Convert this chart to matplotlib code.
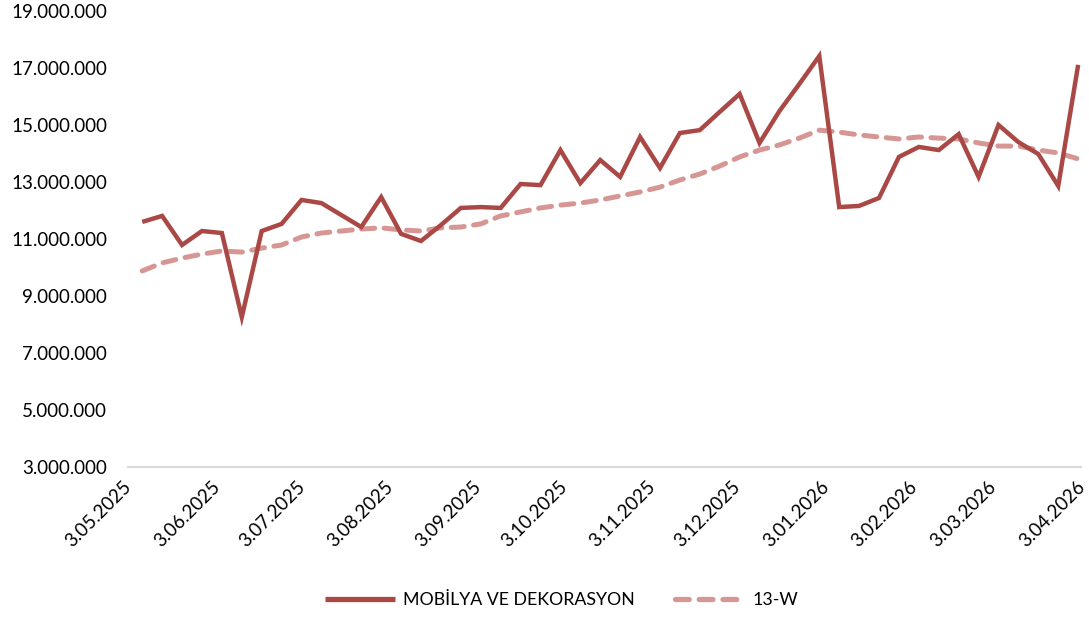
import matplotlib
matplotlib.use("Agg")
import matplotlib.pyplot as plt
import matplotlib.ticker as mticker
import matplotlib.transforms as mtransforms
import pandas as pd

plt.rcParams['font.family'] = ['Lato', 'DejaVu Sans']

# Weekly dates (categories)
dates = pd.date_range('2025-05-08', periods=48, freq='7D')

# Values in millions
sales_m = [11.60, 11.81, 10.79, 11.28, 11.21, 8.26, 11.28, 11.53, 12.37, 12.26,
           11.84, 11.42, 12.47, 11.18, 10.93, 11.49, 12.09, 12.12, 12.09, 12.93,
           12.89, 14.12, 12.96, 13.77, 13.18, 14.58, 13.49, 14.72, 14.82, 15.46,
           16.09, 14.37, 15.49, 16.44, 17.42, 12.12, 12.16, 12.44, 13.88, 14.23,
           14.12, 14.68, 13.18, 15.00, 14.40, 13.98, 12.86, 17.11]
ma13_m = [9.88, 10.16, 10.33, 10.47, 10.58, 10.54, 10.68, 10.79, 11.07, 11.21,
          11.28, 11.35, 11.39, 11.32, 11.28, 11.39, 11.42, 11.53, 11.81, 11.95,
          12.09, 12.19, 12.26, 12.37, 12.51, 12.65, 12.82, 13.07, 13.28, 13.56,
          13.88, 14.12, 14.30, 14.54, 14.82, 14.75, 14.65, 14.58, 14.51, 14.58,
          14.54, 14.51, 14.37, 14.26, 14.26, 14.12, 14.02, 13.81]

series_names = ['MOBİLYA VE DEKORASYON', '13-W']
tick_dates = pd.to_datetime(['2025-05-03', '2025-06-03', '2025-07-03', '2025-08-03',
                             '2025-09-03', '2025-10-03', '2025-11-03', '2025-12-03',
                             '2026-01-03', '2026-02-03', '2026-03-03', '2026-04-03'])
y_ticks = [3e6, 5e6, 7e6, 9e6, 11e6, 13e6, 15e6, 17e6, 19e6]

sales = [v * 1e6 for v in sales_m]
ma13 = [v * 1e6 for v in ma13_m]

W, H = 1089, 617
fig = plt.figure(figsize=(W / 100, H / 100), dpi=100)
ax = fig.add_axes([128 / W, 1 - 467 / H, 953 / W, (467 - 11) / H])

l1, = ax.plot(dates, sales, color='#AA4845', lw=3.2, solid_joinstyle='miter',
              solid_capstyle='butt', label=series_names[0], zorder=3)
l2, = ax.plot(dates, ma13, color='#D69794', lw=3.6, dashes=(2.6, 1.9),
              dash_capstyle='round', label=series_names[1], zorder=2)

ax.set_xlim(tick_dates[0], tick_dates[-1])
ax.set_ylim(3e6, 19e6)
ax.set_yticks(y_ticks)
ax.yaxis.set_major_formatter(mticker.FuncFormatter(
    lambda v, p: f"{int(round(v)):,}".replace(',', '.')))
ax.set_xticks(tick_dates)
ax.set_xticklabels([f"{d.day}.{d.month:02d}.{d.year}" for d in tick_dates])

for s in ['top', 'right', 'left']:
    ax.spines[s].set_visible(False)
ax.spines['bottom'].set_color('#d9d9d9')
ax.spines['bottom'].set_linewidth(1.5)
ax.tick_params(axis='both', length=0, labelsize=13.5, colors='black')
ax.tick_params(axis='y', pad=15)
ax.tick_params(axis='x', pad=8)
offset = mtransforms.ScaledTranslation(-5 / 100, 0, fig.dpi_scale_trans)
for lab in ax.get_xticklabels():
    lab.set_rotation(45)
    lab.set_ha('right')
    lab.set_va('top')
    lab.set_rotation_mode('anchor')
    lab.set_transform(lab.get_transform() + offset)

leg = fig.legend(handles=[l1, l2], loc='center', bbox_to_anchor=(0.516, 0.028),
                 ncol=2, frameon=False, fontsize=12.8, handlelength=3.9,
                 handletextpad=0.45, columnspacing=2.3)
for h in leg.get_lines():
    h.set_linewidth(3.8)

fig.savefig('out.png', dpi=100, facecolor='white')
